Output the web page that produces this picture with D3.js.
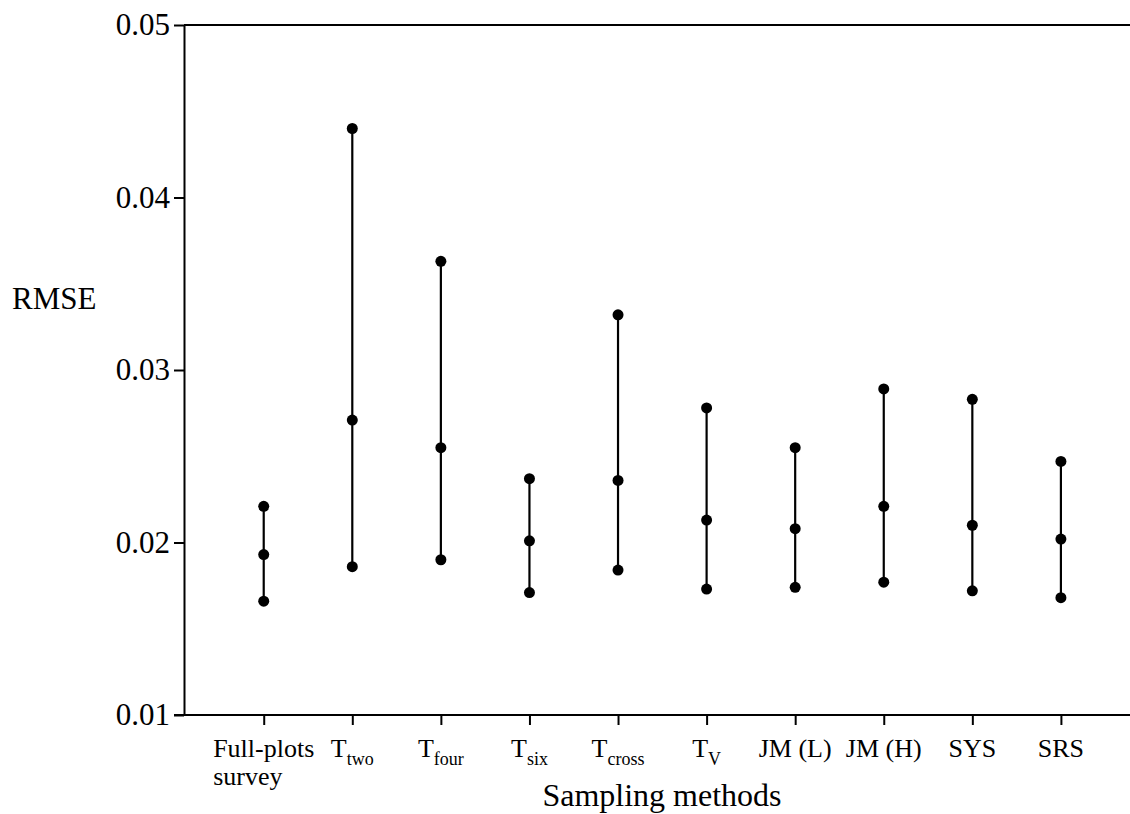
<!DOCTYPE html>
<html>
<head>
<meta charset="utf-8">
<script src="https://cdn.jsdelivr.net/npm/d3@7"></script>
<style>
  html, body { margin: 0; padding: 0; background: #fff; }
  svg { display: block; }
  svg text { font-family: "Liberation Serif", "Times New Roman", serif !important; fill: #000; }
</style>
</head>
<body>
<svg id="chart" width="1130" height="814"></svg>
<script>
// Sampling methods (label main part + subscript)
const methodMain = ["Full-plots", "T", "T", "T", "T", "T", "JM (L)", "JM (H)", "SYS", "SRS"];
const methodSub  = ["", "two", "four", "six", "cross", "V", "", "", "", ""];
const methodLine2 = ["survey", "", "", "", "", "", "", "", "", ""];

// RMSE: lower, middle and upper values per method
const rmseLow  = [0.0166, 0.0186, 0.0190, 0.0171, 0.0184, 0.0173, 0.0174, 0.0177, 0.0172, 0.0168];
const rmseMid  = [0.0193, 0.0271, 0.0255, 0.0201, 0.0236, 0.0213, 0.0208, 0.0221, 0.0210, 0.0202];
const rmseHigh = [0.0221, 0.0440, 0.0363, 0.0237, 0.0332, 0.0278, 0.0255, 0.0289, 0.0283, 0.0247];

const yTicks = [0.01, 0.02, 0.03, 0.04, 0.05];

(function () {
  const serif = "'Liberation Serif', 'Times New Roman', serif";
  const svg = d3.select("#chart");
  const plotLeft = 184, plotRight = 1130, plotTop = 25, plotBottom = 715;

  const x = d3.scaleLinear().domain([0.1, 10.78]).range([plotLeft, plotRight]);
  const y = d3.scaleLinear().domain([0.01, 0.05]).range([plotBottom, plotTop]);

  const rows = methodMain.map((m, i) => ({
    i, pos: i + 1, main: m, sub: methodSub[i], line2: methodLine2[i],
    lo: rmseLow[i], mid: rmseMid[i], hi: rmseHigh[i]
  }));

  // Y axis
  const yAxis = svg.append("g")
    .attr("transform", `translate(${plotLeft},0)`)
    .call(d3.axisLeft(y).tickValues(yTicks).tickFormat(d3.format(".2f"))
      .tickSize(10).tickSizeOuter(0).tickPadding(4));
  yAxis.attr("font-family", serif).attr("font-size", 31);
  yAxis.selectAll("path, line").attr("stroke", "#000").attr("stroke-width", 2);

  // Frame line along the top
  svg.append("line")
    .attr("x1", plotLeft).attr("x2", plotRight)
    .attr("y1", y(0.05)).attr("y2", y(0.05))
    .attr("stroke", "#000").attr("stroke-width", 2);

  // X axis
  const xAxis = svg.append("g")
    .attr("transform", `translate(0,${plotBottom})`)
    .call(d3.axisBottom(x).tickValues(rows.map(d => d.pos)).tickFormat("")
      .tickSize(10).tickSizeOuter(0));
  xAxis.select("path").attr("d", `M${plotLeft - 10},0H${plotRight}`);
  xAxis.selectAll("path, line").attr("stroke", "#000").attr("stroke-width", 2);

  // Category labels
  const labels = svg.append("g").attr("font-family", serif);
  rows.forEach(d => {
    const t = labels.append("text")
      .attr("x", x(d.pos)).attr("y", 757)
      .attr("text-anchor", "middle")
      .attr("font-size", 26);
    t.append("tspan").text(d.main);
    if (d.sub) {
      t.append("tspan").attr("dy", 8).attr("font-size", 18).text(d.sub);
    }
    if (d.line2) {
      const bb = t.node().getBBox();
      labels.append("text")
        .attr("x", bb.x).attr("y", 785)
        .attr("font-size", 26)
        .text(d.line2);
    }
  });

  // Axis titles
  svg.append("text")
    .attr("x", 662).attr("y", 806)
    .attr("text-anchor", "middle")
    .attr("font-family", serif)
    .attr("font-size", 32)
    .text("Sampling methods");

  svg.append("text")
    .attr("x", 12).attr("y", 309)
    .attr("font-family", serif)
    .attr("font-size", 31)
    .text("RMSE");

  // Range lines
  svg.append("g").selectAll("line")
    .data(rows)
    .join("line")
    .attr("x1", d => x(d.pos)).attr("x2", d => x(d.pos))
    .attr("y1", d => y(d.lo)).attr("y2", d => y(d.hi))
    .attr("stroke", "#000").attr("stroke-width", 2.2);

  // Points
  const pts = rows.flatMap(d => [
    { pos: d.pos, v: d.lo }, { pos: d.pos, v: d.mid }, { pos: d.pos, v: d.hi }
  ]);
  svg.append("g").selectAll("circle")
    .data(pts)
    .join("circle")
    .attr("cx", d => x(d.pos)).attr("cy", d => y(d.v))
    .attr("r", 5.5)
    .attr("fill", "#000");
})();
</script>
</body>
</html>
